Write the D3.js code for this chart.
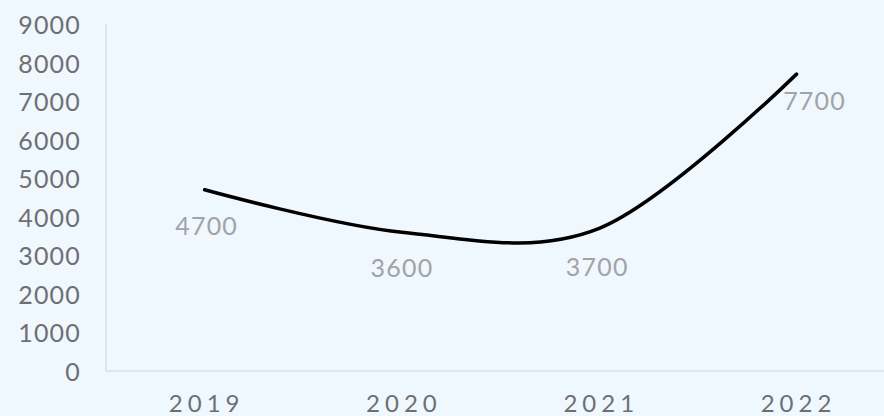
<!DOCTYPE html>
<html>
<head>
<meta charset="utf-8">
<script src="https://cdn.jsdelivr.net/npm/d3@7"></script>
<style>
  body { margin: 0; background: #eff7ff; }
  svg { display: block; }
  text { font-family: Lato, "Noto Sans", sans-serif; }
</style>
</head>
<body>
<div id="chart"></div>
<script>
// data
var years = ["2019", "2020", "2021", "2022"];
var values = [4700, 3600, 3700, 7700];
var yTicks = [0, 1000, 2000, 3000, 4000, 5000, 6000, 7000, 8000, 9000];
// label offsets (dx, dy) relative to the point
var labelDx = [2, 0, -2, 18];
var labelDy = [35, 35, 38, 26];

var width = 884, height = 416;
var margin = {top: 24, left: 106, bottom: 45};

var svg = d3.select("#chart")
  .append("svg")
  .attr("width", width)
  .attr("height", height);

svg.append("rect")
  .attr("width", width)
  .attr("height", height)
  .attr("fill", "#eff7ff");

var x = d3.scaleBand()
  .domain(years)
  .range([margin.left, margin.left + 4 * 197.3]);

var y = d3.scaleLinear()
  .domain([0, 9000])
  .range([height - margin.bottom, margin.top]);

// axis lines
svg.append("line")
  .attr("x1", margin.left).attr("x2", margin.left)
  .attr("y1", y(9000)).attr("y2", y(0))
  .attr("stroke", "#dcdfe2").attr("stroke-width", 1.5);

svg.append("line")
  .attr("x1", margin.left).attr("x2", x.range()[1])
  .attr("y1", y(0)).attr("y2", y(0))
  .attr("stroke", "#dcdfe2").attr("stroke-width", 1.5);

// y tick labels
svg.selectAll(".ytick")
  .data(yTicks)
  .enter().append("text")
  .attr("class", "ytick")
  .attr("x", 81)
  .attr("y", function(d) { return y(d); })
  .attr("text-anchor", "end")
  .attr("dominant-baseline", "central")
  .attr("fill", "#6f6f6f")
  .style("font-size", "25px")
  .style("letter-spacing", "1.2px")
  .text(function(d) { return d; });

// x tick labels
svg.selectAll(".xtick")
  .data(years)
  .enter().append("text")
  .attr("class", "xtick")
  .attr("x", function(d) { return x(d) + x.bandwidth() / 2 + 2; })
  .attr("y", 412)
  .attr("text-anchor", "middle")
  .attr("fill", "#6f6f6f")
  .style("font-size", "24px")
  .style("letter-spacing", "5px")
  .text(function(d) { return d; });

var pts = years.map(function(d, i) { return {year: d, value: values[i], i: i}; });

// smoothed line
svg.append("path")
  .datum(pts)
  .attr("fill", "none")
  .attr("stroke", "#000")
  .attr("stroke-width", 3.5)
  .attr("stroke-linecap", "round")
  .attr("stroke-linejoin", "round")
  .attr("d", d3.line()
    .x(function(d) { return x(d.year) + x.bandwidth() / 2; })
    .y(function(d) { return y(d.value); })
    .curve(d3.curveCardinal.tension(0))
  );

// data labels
svg.selectAll(".lbl")
  .data(pts)
  .enter().append("text")
  .attr("class", "lbl")
  .attr("x", function(d) { return x(d.year) + x.bandwidth() / 2 + labelDx[d.i]; })
  .attr("y", function(d) { return y(d.value) + labelDy[d.i]; })
  .attr("text-anchor", "middle")
  .attr("dominant-baseline", "central")
  .attr("fill", "#a3a3a3")
  .style("font-size", "25px")
  .style("letter-spacing", "1.2px")
  .text(function(d) { return d.value; });
</script>
</body>
</html>
